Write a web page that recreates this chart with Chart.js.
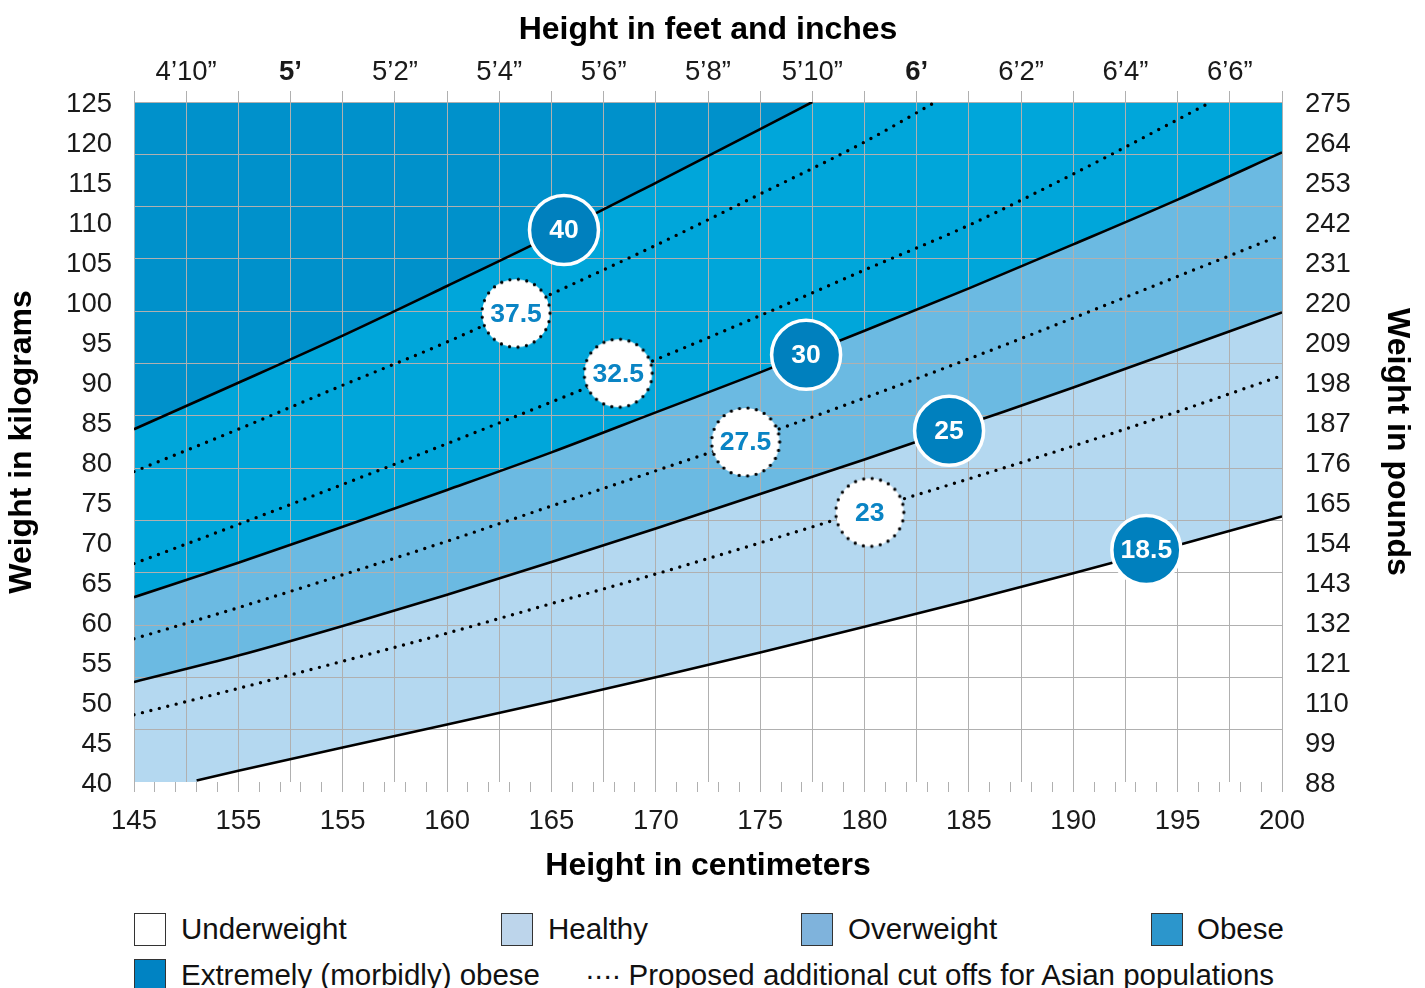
<!DOCTYPE html>
<html>
<head>
<meta charset="utf-8">
<title>BMI chart</title>
<script src="https://cdn.jsdelivr.net/npm/chart.js@4.4.1/dist/chart.umd.min.js"></script>
<style>
  body { margin: 0; background: #fff; font-family: "Liberation Sans", Arial, sans-serif; }
  #wrap { position: relative; width: 1425px; height: 988px; overflow: hidden; }
  #box { position: absolute; left: 0; top: 0; width: 1425px; height: 890px; }
  .sw { position: absolute; width: 32px; height: 33px; border: 1.5px solid #333; box-sizing: border-box; }
  .txt { position: absolute; font-size: 29.5px; line-height: 34px; color: #111; white-space: nowrap; }
</style>
</head>
<body>
<div id="wrap">
  <div id="box"><canvas id="bmiChart"></canvas></div>

  <!-- Legend -->
  <div class="sw" style="left:134px; top:913px; background:#fff;"></div>
  <div class="txt" style="left:181px; top:912px;">Underweight</div>
  <div class="sw" style="left:501px; top:913px; background:#bdd5eb;"></div>
  <div class="txt" style="left:548px; top:912px;">Healthy</div>
  <div class="sw" style="left:801px; top:913px; background:#7fb3dc;"></div>
  <div class="txt" style="left:848px; top:912px;">Overweight</div>
  <div class="sw" style="left:1151px; top:913px; background:#2c96cc;"></div>
  <div class="txt" style="left:1197px; top:912px;">Obese</div>
  <div class="sw" style="left:134px; top:959px; background:#0083c3;"></div>
  <div class="txt" style="left:181px; top:958px;">Extremely (morbidly) obese</div>
  <div class="txt" style="left:585px; top:958px;"><span style="letter-spacing:-1px;">····</span> Proposed additional cut offs for Asian populations</div>
</div>

<script>
// Axis labels
const cmTickValues = [145, 150, 155, 160, 165, 170, 175, 180, 185, 190, 195, 200];
const cmTickLabels = ['145', '155', '155', '160', '165', '170', '175', '180', '185', '190', '195', '200'];
const ftInValues = [58, 60, 62, 64, 66, 68, 70, 72, 74, 76, 78];
const ftInLabels = ['4’10”', '5’', '5’2”', '5’4”', '5’6”', '5’8”', '5’10”', '6’', '6’2”', '6’4”', '6’6”'];
const ftInBold = [60, 72];
const kgRange = [40, 125];
const lbRange = [88, 275];

// BMI lines (height cm -> weight kg)
const hFull = [145, 150, 155, 160, 165, 170, 175, 180, 185, 190, 195, 200];
const w30 = [63.1, 67.4, 71.9, 76.5, 81.2, 86.2, 91.2, 96.4, 101.7, 107.2, 112.8, 118.7];
const w25 = [52.5, 55.8, 59.5, 63.4, 67.5, 71.7, 76.0, 80.3, 84.8, 89.3, 94.0, 98.7];
const w275 = [57.9, 61.8, 65.9, 70.1, 74.5, 78.9, 83.3, 88.0, 92.9, 98.0, 103.2, 108.4];
const w23 = [48.4, 51.7, 55.1, 58.6, 62.3, 66.0, 69.9, 73.9, 77.9, 82.0, 86.3, 90.8];

const h185 = [148, 150, 155, 160, 165, 170, 175, 180, 185, 190, 195, 200];
const w185 = [40.2, 41.4, 44.3, 47.2, 50.1, 53.1, 56.2, 59.4, 62.7, 66.1, 69.6, 73.2];

const h40 = [145, 150, 155, 160, 165, 170, 175, 177.5];
const w40 = [84.1, 89.9, 95.8, 102.0, 108.3, 114.9, 121.6, 125];

const h375 = [145, 150, 155, 160, 165, 170, 175, 180, 183.4];
const w375 = [78.8, 84.1, 89.6, 95.0, 101.0, 107.1, 113.5, 120.0, 125];

const h325 = [145, 150, 155, 160, 165, 170, 175, 180, 185, 190, 195, 196.6];
const w325 = [67.3, 72.2, 77.2, 82.3, 87.5, 92.8, 98.3, 104.0, 109.6, 116.0, 122.8, 125];

// Circle labels
const solidText = ['40', '30', '25', '18.5'];
const solidH = [165.6, 177.2, 184.05, 193.5];
const solidW = [109.0, 93.4, 83.9, 69.0];
const dottedText = ['37.5', '32.5', '27.5', '23'];
const dottedH = [163.3, 168.2, 174.3, 180.25];
const dottedW = [98.6, 91.1, 82.5, 73.7];

// Colours
const cMorbid = '#0091cb';
const cObese = '#00a6da';
const cOver = '#6bbae2';
const cHealthy = '#b4d8f0';
const cGrid = '#b0b0b0';
const cCircle = '#0080be';
const cCircleText = '#0a84c4';

const font = '"Liberation Sans", Arial, Helvetica, sans-serif';
Chart.defaults.font.family = font;

// Turn two arrays into points
var pts = (hs, ws) => hs.map((h, i) => ({ x: h, y: ws[i] }));

// Shared line look
var lineStyle = {
    pointRadius: 0,
    cubicInterpolationMode: 'monotone',
    borderColor: '#000',
    borderWidth: 2.6
};
var dotStyle = Object.assign({}, lineStyle, {
    fill: false,
    borderWidth: 3.4,
    borderDash: [0, 8.7],
    borderCapStyle: 'round',
    order: 10
});

// Dotted circle used as a point image
var dottedCircle = () => {
    const c = document.createElement('canvas');
    c.width = 78;
    c.height = 78;
    const g = c.getContext('2d');
    g.beginPath();
    g.arc(39, 39, 34, 0, Math.PI * 2);
    g.fillStyle = '#fff';
    g.fill();
    g.setLineDash([0, 2 * Math.PI * 34 / 25]);
    g.lineCap = 'round';
    g.lineWidth = 3.3;
    g.strokeStyle = '#000';
    g.stroke();
    return c;
};

// Writes the BMI number in each circle
const bmiText = {
    id: 'bmiText',
    afterDatasetsDraw(chart) {
        const ctx = chart.ctx;
        chart.data.datasets.forEach((ds, i) => {
            if (!ds.bmiLabels) return;
            const meta = chart.getDatasetMeta(i);
            ctx.save();
            ctx.font = 'bold 26.5px ' + font;
            ctx.fillStyle = ds.textColor;
            ctx.textAlign = 'center';
            ctx.textBaseline = 'middle';
            meta.data.forEach((p, j) => ctx.fillText(ds.bmiLabels[j], p.x, p.y + 1));
            ctx.restore();
        });
    }
};

var ctx = document.getElementById('bmiChart').getContext('2d');

var chart = new Chart(ctx, {
    type: 'line',
    data: {
        datasets: [
            // Bands (filled before the grid)
            Object.assign({}, lineStyle, { label: 'Overweight', data: pts(hFull, w25), fill: 'end', backgroundColor: cOver, borderWidth: 0, order: 20 }),
            Object.assign({}, lineStyle, { label: 'Obese', data: pts(hFull, w30), fill: 'end', backgroundColor: cObese, order: 19 }),
            Object.assign({}, lineStyle, { label: 'Extremely obese', data: pts(h40, w40), fill: 'end', backgroundColor: cMorbid, order: 18 }),
            Object.assign({}, lineStyle, { label: 'Healthy', data: pts(hFull, w25), fill: 'start', backgroundColor: cHealthy, order: 17 }),
            Object.assign({}, lineStyle, { label: 'Underweight', data: pts(h185, w185), fill: 'start', backgroundColor: '#fff', order: 16 }),

            // Asian cut offs
            Object.assign({}, dotStyle, { label: '37.5', data: pts(h375, w375) }),
            Object.assign({}, dotStyle, { label: '32.5', data: pts(h325, w325) }),
            Object.assign({}, dotStyle, { label: '27.5', data: pts(hFull, w275) }),
            Object.assign({}, dotStyle, { label: '23', data: pts(hFull, w23) }),

            // Circles
            {
                label: 'BMI',
                data: pts(solidH, solidW),
                showLine: false,
                pointRadius: 34.5,
                pointBackgroundColor: cCircle,
                pointBorderColor: '#fff',
                pointBorderWidth: 3.5,
                bmiLabels: solidText,
                textColor: '#fff',
                order: 1
            },
            {
                label: 'Asian BMI',
                data: pts(dottedH, dottedW),
                showLine: false,
                pointStyle: dottedCircle(),
                pointRadius: 34,
                bmiLabels: dottedText,
                textColor: cCircleText,
                order: 0
            }
        ]
    },
    options: {
        responsive: true,
        maintainAspectRatio: false,
        animation: false,
        events: [],
        layout: { padding: 0 },
        plugins: {
            legend: { display: false },
            tooltip: { enabled: false },
            filler: { drawTime: 'beforeDraw' }
        },
        scales: {
            x: {
                type: 'linear',
                position: 'bottom',
                min: 145,
                max: 200,
                ticks: {
                    stepSize: 1,
                    maxTicksLimit: 100,
                    autoSkip: false,
                    maxRotation: 0,
                    padding: 13,
                    color: '#1a1a1a',
                    font: { size: 27.5 },
                    callback: (v) => {
                        const i = cmTickValues.indexOf(v);
                        return i >= 0 ? cmTickLabels[i] : '';
                    }
                },
                grid: { drawOnChartArea: false, drawTicks: true, tickLength: 10, color: cGrid },
                border: { display: false },
                title: { display: true, text: 'Height in centimeters', color: '#000', font: { size: 32, weight: 'bold' }, padding: { top: 0, bottom: 5 } },
                afterFit: (s) => { s.height = 108; }
            },
            xTop: {
                type: 'linear',
                position: 'top',
                min: 57,
                max: 79,
                ticks: {
                    stepSize: 1,
                    maxTicksLimit: 100,
                    autoSkip: false,
                    maxRotation: 0,
                    padding: 2,
                    color: '#1a1a1a',
                    font: (c) => ({ size: 27.5, weight: (c.tick && ftInBold.indexOf(c.tick.value) >= 0) ? 'bold' : 'normal' }),
                    callback: (v) => {
                        const i = ftInValues.indexOf(v);
                        return i >= 0 ? ftInLabels[i] : '';
                    }
                },
                grid: { color: cGrid, tickLength: 11, drawTicks: true },
                border: { display: false },
                title: { display: true, text: 'Height in feet and inches', color: '#000', font: { size: 32, weight: 'bold' }, padding: { top: 11, bottom: 0 } },
                afterFit: (s) => { s.height = 102; }
            },
            y: {
                type: 'linear',
                position: 'left',
                min: kgRange[0],
                max: kgRange[1],
                ticks: { stepSize: 5, maxTicksLimit: 100, padding: 22, labelOffset: 2, color: '#1a1a1a', font: { size: 27.5 } },
                grid: { display: false, drawTicks: false },
                border: { display: false },
                title: { display: true, text: 'Weight in kilograms', color: '#000', font: { size: 32, weight: 'bold' }, padding: { top: 3, bottom: 0 } },
                afterFit: (s) => { s.width = 134; }
            },
            yGrid: {
                type: 'linear',
                position: 'left',
                min: 0,
                max: 13,
                ticks: { display: false, stepSize: 1, maxTicksLimit: 100 },
                grid: { drawTicks: false, color: (c) => (c.tick && c.tick.value === 0) ? 'rgba(0,0,0,0)' : cGrid },
                border: { display: false },
                afterFit: (s) => { s.width = 0; }
            },
            yLb: {
                type: 'linear',
                position: 'right',
                min: lbRange[0],
                max: lbRange[1],
                ticks: { stepSize: 11, maxTicksLimit: 100, padding: 23, labelOffset: 2, color: '#1a1a1a', font: { size: 27.5 } },
                grid: { display: false, drawTicks: false },
                border: { display: false },
                title: { display: true, text: 'Weight in pounds', color: '#000', font: { size: 32, weight: 'bold' }, padding: { top: 9, bottom: 0 } },
                afterFit: (s) => { s.width = 143; }
            }
        }
    },
    plugins: [bmiText]
});
</script>
</body>
</html>
